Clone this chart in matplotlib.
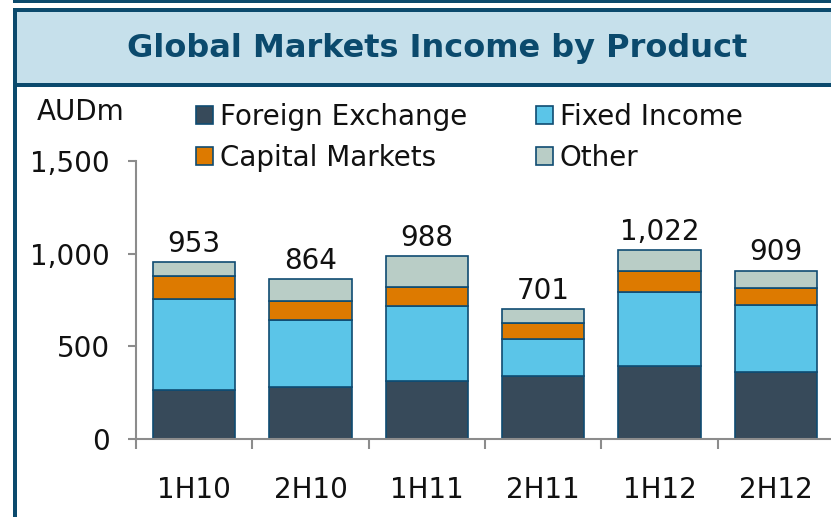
import matplotlib
matplotlib.use("Agg")
import matplotlib.pyplot as plt
from matplotlib.patches import Rectangle
import numpy as np

periods = ["1H10", "2H10", "1H11", "2H11", "1H12", "2H12"]
foreign_exchange = [266, 278, 311, 338, 396, 359]
fixed_income = [489, 364, 407, 201, 396, 366]
capital_markets = [126, 103, 104, 89, 117, 90]
other = [72, 119, 166, 73, 113, 94]
totals = [953, 864, 988, 701, 1022, 909]
yticks = [0, 500, 1000, 1500]

NAVY = "#0b4a6d"
EDGE = "#0f4c72"
TEXT = "#111111"
AXIS = "#8c8c8c"
FS = 20

W, H = 831, 517
fig = plt.figure(figsize=(W / 100, H / 100), dpi=100)


def px(x, y):
    # pixel box (from top-left) -> figure fraction
    return x / W, 1 - y / H


# frame: top rule, title panel, left rule
fig.patches.append(Rectangle(px(13, 3), 1, 3 / H, transform=fig.transFigure,
                             color=NAVY, lw=0, zorder=0))
fig.patches.append(Rectangle(px(13, 87), 1, 79 / H, transform=fig.transFigure,
                             facecolor=NAVY, lw=0, zorder=0))
fig.patches.append(Rectangle(px(17, 83), 1, 71 / H, transform=fig.transFigure,
                             facecolor="#c6e0eb", lw=0, zorder=1))
fig.patches.append(Rectangle(px(13, H), 4 / W, (H - 8) / H, transform=fig.transFigure,
                             facecolor=NAVY, lw=0, zorder=1))
fig.text(437 / W, 1 - 49 / H, "Global Markets Income by Product", ha="center", va="center",
         fontsize=23, fontweight="bold", color=NAVY)
fig.text(37 / W, 1 - 112 / H, "AUDm", ha="left", va="center", fontsize=FS, color=TEXT)

ax = fig.add_axes([136 / W, (H - 439) / H, 698 / W, 278 / H])
x = np.arange(len(periods))
series = [
    ("Foreign Exchange", foreign_exchange, "#374a5a"),
    ("Fixed Income", fixed_income, "#5bc5e8"),
    ("Capital Markets", capital_markets, "#dd7a00"),
    ("Other", other, "#b9cdc6"),
]
bottom = np.zeros(len(periods))
handles = {}
for name, vals, col in series:
    bars = ax.bar(x, vals, 0.71, bottom=bottom, color=col, edgecolor=EDGE,
                  linewidth=1.2, label=name, zorder=2)
    handles[name] = bars
    bottom += vals

for xi, t in zip(x, totals):
    ax.text(xi, t + 22, f"{t:,}", ha="center", va="bottom", fontsize=FS, color=TEXT)

ax.set_xlim(-0.5, len(periods) - 0.5)
ax.set_ylim(0, 1500)
ax.set_yticks(yticks)
ax.set_yticklabels([f"{v:,}" for v in yticks])
ax.set_xticks(x)
ax.set_xticklabels(periods)
ax.set_xticks(np.arange(len(periods) + 1) - 0.5, minor=True)
ax.tick_params(axis="x", which="major", length=0, pad=27, labelsize=FS, labelcolor=TEXT)
ax.tick_params(axis="x", which="minor", length=7, width=1.5, color=AXIS, direction="out")
ax.tick_params(axis="y", length=6, width=1.5, color=AXIS, pad=13, labelsize=FS, labelcolor=TEXT)
for s in ("top", "right"):
    ax.spines[s].set_visible(False)
for s in ("left", "bottom"):
    ax.spines[s].set_color(AXIS)
    ax.spines[s].set_linewidth(1.5)
ax.patch.set_alpha(0)

order = ["Foreign Exchange", "Capital Markets", "Fixed Income", "Other"]
leg = fig.legend([handles[n] for n in order], order, ncol=2, loc="upper left",
                 bbox_to_anchor=(196 / W, 1 - 103 / H), frameon=False, fontsize=FS,
                 handlelength=0.6, handleheight=0.6, handletextpad=0.25,
                 labelspacing=0.45, columnspacing=2.5, borderpad=0, borderaxespad=0)
for t in leg.get_texts():
    t.set_color(TEXT)

fig.savefig("out.png", dpi=100, facecolor="white")
